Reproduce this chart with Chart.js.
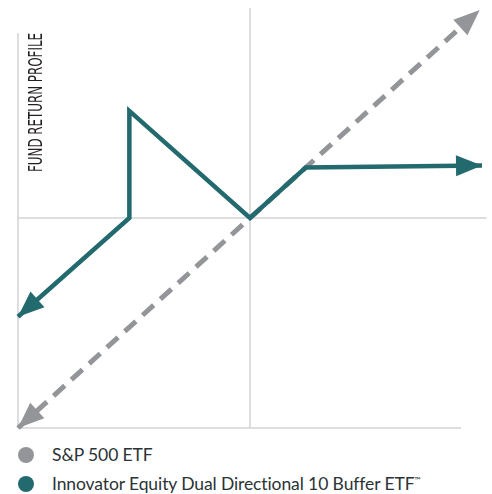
<!DOCTYPE html>
<html>
<head>
<meta charset="utf-8">
<script src="https://cdn.jsdelivr.net/npm/chart.js@4"></script>
<style>
  body { margin: 0; background: #fff; font-family: Lato, "Noto Sans", sans-serif; }
  #wrap { width: 492px; height: 440px; }
  #legend { margin: 0; padding: 0; list-style: none; }
  #legend li { height: 29px; line-height: 29px; font-size: 17.5px; color: #2b3336; position: relative; padding-left: 52px; white-space: nowrap; letter-spacing: -0.1px; }
  #legend li span.dot { position: absolute; left: 18px; top: 6.5px; width: 16px; height: 16px; border-radius: 50%; }
  #legend li sup { font-size: 8px; vertical-align: 7px; line-height: 0; }
</style>
</head>
<body>
<div id="wrap"><canvas id="chart" width="492" height="440"></canvas></div>
<ul id="legend"></ul>
<script>
// data in percent of the axis range (-100..100)
const seriesNames = ['S&P 500 ETF', 'Innovator Equity Dual Directional 10 Buffer ETF™'];
const seriesColors = ['#939598', '#236a6f'];

const spX = [-100, 99];
const spY = [-100, 99];

const fundX = [-100, -52, -52, 0, 24, 100];
const fundY = [-47, 0, 51, 0, 24, 25];

// reference lines (axes + zero lines)
const leftAxisX = [-100, -100], leftAxisY = [-100, 88];
const bottomAxisX = [-100, 91], bottomAxisY = [-100, -100];
const zeroHX = [-100, 102], zeroHY = [0, 0];
const zeroVX = [0, 0], zeroVY = [-100, 100];

const axisTitle = 'FUND RETURN PROFILE';

function pts(xs, ys) {
  return xs.map((x, i) => ({ x: x, y: ys[i] }));
}

function refLine(xs, ys) {
  return {
    data: pts(xs, ys),
    borderColor: '#d1d3d4',
    borderWidth: 1.5,
    pointRadius: 0,
    showLine: true,
    clip: false
  };
}

const arrowPlugin = {
  id: 'arrows',
  afterDatasetsDraw(chart) {
    const ctx = chart.ctx;
    chart.data.datasets.forEach((ds, i) => {
      if (!ds.arrows) return;
      const p = chart.getDatasetMeta(i).data;
      const heads = [[p[0], p[1]], [p[p.length - 1], p[p.length - 2]]];
      heads.forEach(([tip, prev]) => {
        const a = Math.atan2(tip.y - prev.y, tip.x - prev.x);
        const len = 26, hw = 10.5;
        const bx = tip.x - Math.cos(a) * len, by = tip.y - Math.sin(a) * len;
        ctx.save();
        ctx.fillStyle = ds.borderColor;
        ctx.beginPath();
        ctx.moveTo(tip.x, tip.y);
        ctx.lineTo(bx + Math.sin(a) * hw, by - Math.cos(a) * hw);
        ctx.lineTo(bx - Math.sin(a) * hw, by + Math.cos(a) * hw);
        ctx.closePath();
        ctx.fill();
        ctx.restore();
      });
    });
  }
};

const titlePlugin = {
  id: 'sideTitle',
  afterDraw(chart) {
    const ctx = chart.ctx;
    ctx.save();
    ctx.font = '20px "Liberation Sans Narrow", "DejaVu Sans Condensed", "Liberation Sans", sans-serif';
    const w = ctx.measureText(axisTitle).width;
    ctx.translate(42, 172);
    ctx.rotate(-Math.PI / 2);
    ctx.scale(139 / w, 1);
    ctx.fillStyle = '#231f20';
    ctx.textBaseline = 'alphabetic';
    ctx.textAlign = 'left';
    ctx.fillText(axisTitle, 0, 0);
    ctx.restore();
  }
};

new Chart(document.getElementById('chart'), {
  type: 'scatter',
  data: {
    datasets: [
      {
        label: seriesNames[1],
        data: pts(fundX, fundY),
        borderColor: seriesColors[1],
        borderWidth: 4.5,
        borderJoinStyle: 'miter',
        pointRadius: 0,
        showLine: true,
        clip: false,
        arrows: true
      },
      {
        label: seriesNames[0],
        data: pts(spX, spY),
        borderColor: seriesColors[0],
        borderWidth: 5,
        borderDash: [15, 9],
        pointRadius: 0,
        showLine: true,
        clip: false,
        arrows: true
      },
      refLine(zeroVX, zeroVY),
      refLine(zeroHX, zeroHY),
      refLine(leftAxisX, leftAxisY),
      refLine(bottomAxisX, bottomAxisY)
    ]
  },
  options: {
    responsive: false,
    animation: false,
    layout: { padding: { left: 18, right: 10, top: 8, bottom: 12 } },
    scales: {
      x: { type: 'linear', min: -100, max: 100, display: false },
      y: { type: 'linear', min: -100, max: 100, display: false }
    },
    plugins: { legend: { display: false }, tooltip: { enabled: false } }
  },
  plugins: [arrowPlugin, titlePlugin]
});

const legend = document.getElementById('legend');
seriesNames.forEach((name, i) => {
  const li = document.createElement('li');
  const dot = document.createElement('span');
  dot.className = 'dot';
  dot.style.background = seriesColors[i];
  li.appendChild(dot);
  if (name.endsWith('™')) {
    li.appendChild(document.createTextNode(name.slice(0, -1)));
    const sup = document.createElement('sup');
    sup.textContent = '™';
    li.appendChild(sup);
  } else {
    li.appendChild(document.createTextNode(name));
  }
  legend.appendChild(li);
});
</script>
</body>
</html>
